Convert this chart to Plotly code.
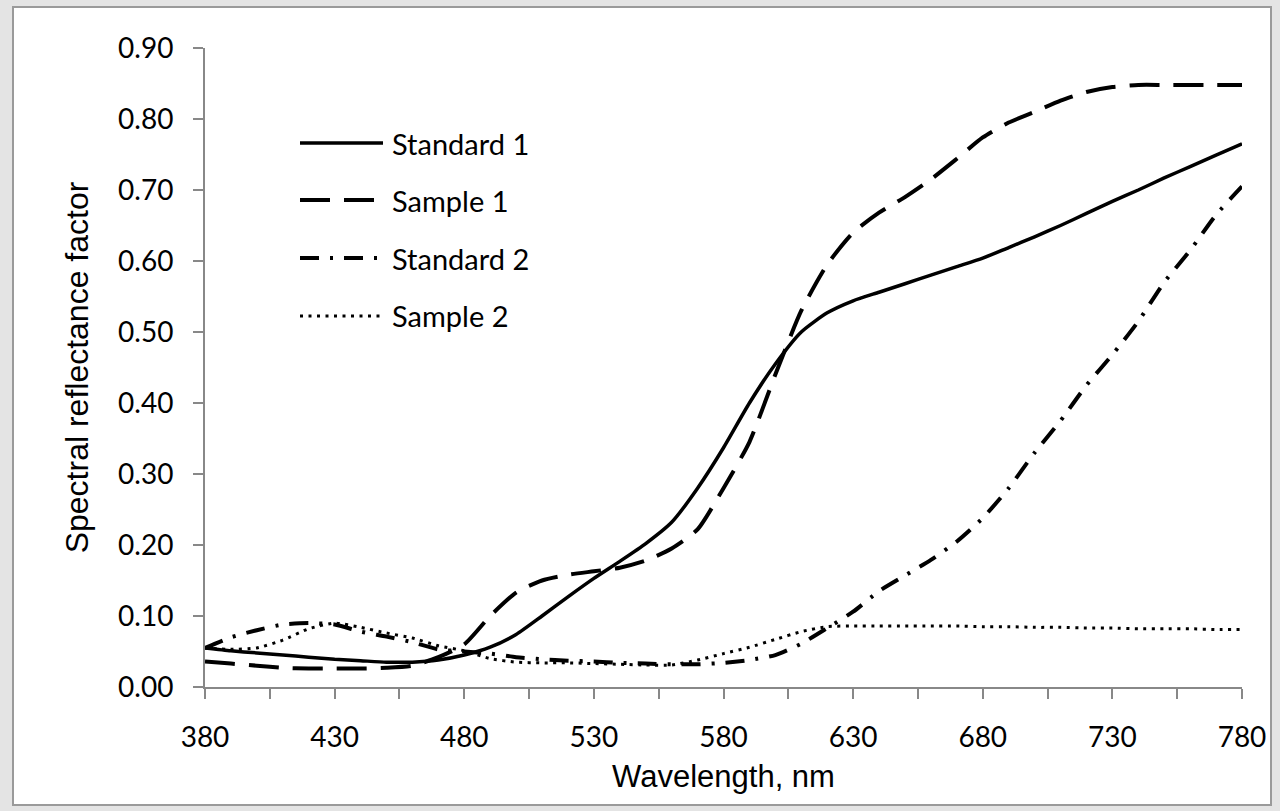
import plotly.graph_objects as go

wavelength = list(range(380, 781, 10))

standard_1 = [0.055, 0.051, 0.048, 0.045, 0.042, 0.039, 0.037, 0.035, 0.035, 0.038,
              0.045, 0.056, 0.074, 0.100, 0.127, 0.153, 0.177, 0.202, 0.232, 0.280,
              0.337, 0.400, 0.455, 0.500, 0.527, 0.544, 0.556, 0.568, 0.580, 0.592,
              0.604, 0.619, 0.634, 0.650, 0.667, 0.684, 0.700, 0.717, 0.733, 0.749,
              0.765]

sample_1 = [0.036, 0.033, 0.030, 0.027, 0.026, 0.026, 0.026, 0.027, 0.030, 0.042,
            0.060, 0.100, 0.133, 0.150, 0.158, 0.163, 0.168, 0.178, 0.195, 0.222,
            0.280, 0.345, 0.440, 0.530, 0.595, 0.640, 0.668, 0.690, 0.715, 0.744,
            0.774, 0.795, 0.810, 0.826, 0.838, 0.845, 0.848, 0.848, 0.848, 0.848,
            0.848]

standard_2 = [0.055, 0.070, 0.080, 0.088, 0.090, 0.088, 0.078, 0.071, 0.063, 0.053,
              0.050, 0.047, 0.042, 0.039, 0.037, 0.036, 0.034, 0.033, 0.032, 0.032,
              0.034, 0.038, 0.045, 0.061, 0.083, 0.106, 0.135, 0.157, 0.179, 0.205,
              0.238, 0.280, 0.330, 0.375, 0.425, 0.468, 0.515, 0.570, 0.615, 0.665,
              0.705]

sample_2 = [0.055, 0.053, 0.055, 0.066, 0.082, 0.090, 0.084, 0.076, 0.069, 0.058,
            0.051, 0.040, 0.035, 0.034, 0.034, 0.033, 0.032, 0.031, 0.031, 0.038,
            0.047, 0.056, 0.067, 0.078, 0.085, 0.086, 0.086, 0.086, 0.086, 0.086,
            0.085, 0.085, 0.084, 0.084, 0.083, 0.083, 0.082, 0.082, 0.082, 0.081,
            0.081]

series_names = ["Standard 1", "Sample 1", "Standard 2", "Sample 2"]
series_values = [standard_1, sample_1, standard_2, sample_2]
dashes = ["solid", "30px,14px", "19px,11px,3px,11px", "3px,5.5px"]
widths = [3.5, 4, 4, 3]

x_ticks = list(range(380, 781, 50))
y_ticks = [round(0.1 * i, 1) for i in range(10)]

fig = go.Figure()
for name, vals, dash, w in zip(series_names, series_values, dashes, widths):
    fig.add_trace(go.Scatter(
        x=wavelength, y=vals, name=name, mode="lines",
        line=dict(color="black", width=w, dash=dash, shape="spline", smoothing=0.6),
        showlegend=False,
    ))

# plot area geometry (pixels) for legend placement
L, R, T, B = 205, 1242, 48, 687
def px(xp):
    return (xp - L) / (R - L)
def py(yp):
    return (B - yp) / (B - T)

shapes = [
    dict(type="rect", xref="paper", yref="paper",
         x0=px(13), x1=px(1271), y0=py(805), y1=py(7),
         line=dict(color="#9a9a9a", width=2), fillcolor="white", layer="below"),
]
annotations = []
legend_rows = [143, 200, 258, 316]
for name, dash, w, yr in zip(series_names, dashes, widths, legend_rows):
    shapes.append(dict(type="line", xref="paper", yref="paper",
                       x0=px(300), x1=px(383), y0=py(yr), y1=py(yr),
                       line=dict(color="black", width=w, dash=dash)))
    annotations.append(dict(xref="paper", yref="paper", x=px(390), y=py(yr),
                            text=name, showarrow=False, xanchor="left", yanchor="middle",
                            font=dict(family="Lato", size=29, color="black")))

axis_color = "#888888"
fig.update_layout(
    width=1280, height=811, autosize=False,
    margin=dict(l=L, r=1280 - R, t=T, b=811 - B),
    paper_bgcolor="#e4e4e4", plot_bgcolor="white",
    shapes=shapes, annotations=annotations,
    xaxis=dict(
        range=[380, 780], tickvals=x_ticks, ticktext=[str(v) for v in x_ticks],
        ticks="outside", ticklen=10, tickwidth=2, tickcolor=axis_color,
        minor=dict(dtick=25, tick0=380, ticks="outside", ticklen=10, tickwidth=2,
                   tickcolor=axis_color, showgrid=False),
        showline=True, linecolor=axis_color, linewidth=2, showgrid=False, zeroline=False,
        tickfont=dict(family="Lato", size=28, color="black"),
        ticklabelstandoff=14,
        title=dict(text="Wavelength, nm", standoff=14,
                   font=dict(family="Liberation Sans", size=31, color="black")),
    ),
    yaxis=dict(
        range=[0, 0.9], tickvals=y_ticks, ticktext=[f"{v:.2f}" for v in y_ticks],
        ticks="outside", ticklen=10, tickwidth=2, tickcolor=axis_color,
        showline=True, linecolor=axis_color, linewidth=2, showgrid=False, zeroline=False,
        tickfont=dict(family="Lato", size=28, color="black"),
        ticklabelstandoff=14,
        title=dict(text="Spectral reflectance factor", standoff=20,
                   font=dict(family="Liberation Sans", size=32, color="black")),
    ),
)

fig.write_html("out.html")
